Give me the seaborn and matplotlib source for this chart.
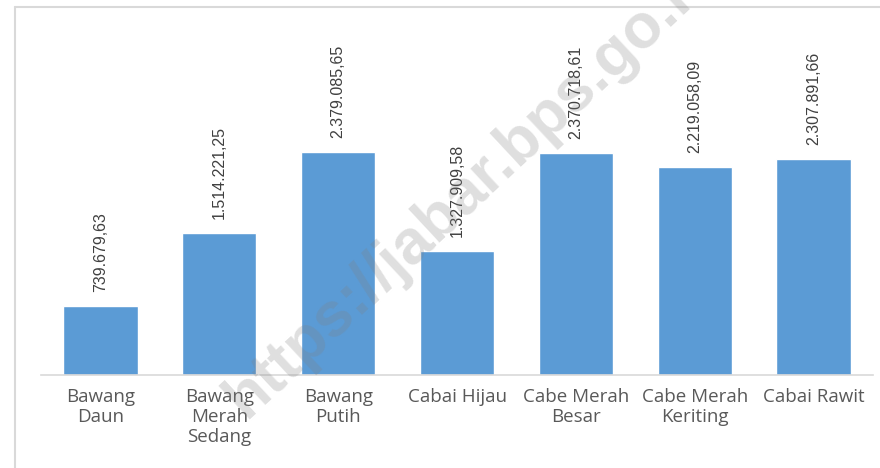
import numpy as np
import pandas as pd
import matplotlib.pyplot as plt
import seaborn as sns
from matplotlib.lines import Line2D

# data
komoditas = ['Bawang\nDaun', 'Bawang\nMerah\nSedang', 'Bawang\nPutih', 'Cabai Hijau',
             'Cabe Merah\nBesar', 'Cabe Merah\nKeriting', 'Cabai Rawit']
nilai = [739679.63, 1514221.25, 2379085.65, 1327909.58, 2370718.61, 2219058.09, 2307891.66]

df = pd.DataFrame({'Komoditas': komoditas, 'Nilai': nilai})

sns.set_theme(style='white')
plt.rcParams['font.family'] = ['Open Sans', 'DejaVu Sans']

fig = plt.figure(figsize=(8.8, 4.68), dpi=100)
ax = fig.add_axes([41/880, 93/468, 832/880, 356/468])

sns.barplot(data=df, x='Komoditas', y='Nilai', color='#5B9BD5', saturation=1,
            width=0.625, ax=ax)

# label angka format Indonesia
def fmt(v):
    s = f"{v:,.2f}"
    return s.replace(',', 'X').replace('.', ',').replace('X', '.')

ax.bar_label(ax.containers[0], labels=[fmt(v) for v in nilai], rotation=90,
             padding=10, fontsize=11.5, color='#404040',
             family=['Liberation Sans', 'DejaVu Sans'])

ax.set_ylim(0, 3.8e6)
ax.set_xlim(-0.5, 6.5)
ax.set_xlabel('')
ax.set_ylabel('')
ax.set_yticks([])
ax.tick_params(axis='x', length=0, pad=9, labelsize=13.5, labelcolor='#595959')
for lbl in ax.get_xticklabels():
    lbl.set_linespacing(1.15)
sns.despine(ax=ax, left=True, top=True, right=True)
ax.spines['bottom'].set_color('#d9d9d9')
ax.spines['bottom'].set_linewidth(1.2)

# bingkai chart
fig.add_artist(Line2D([15/880, 15/880], [0, 461/468], color='#d9d9d9', lw=1.5))
fig.add_artist(Line2D([15/880, 1], [461/468, 461/468], color='#d9d9d9', lw=1.5))

# watermark
fig.text(246/880, 49/468, 'https://jabar.bps.go.id', rotation=43, rotation_mode='anchor',
         ha='left', va='baseline', fontsize=45, fontweight='bold', color='gray',
         alpha=0.25, family=['Liberation Sans', 'DejaVu Sans'])

fig.savefig('out.png', dpi=100)
